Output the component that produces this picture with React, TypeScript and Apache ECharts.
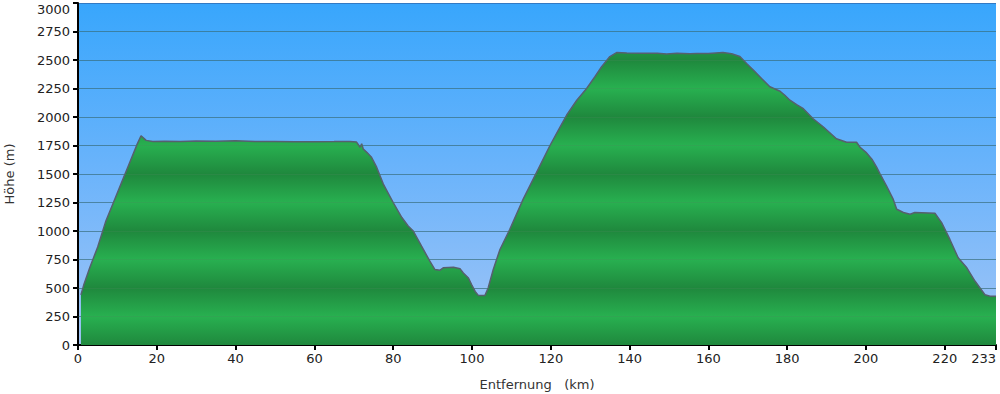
import React, { useEffect, useRef } from "react";
import * as echarts from "echarts";

const distanceKm = [
  0.75, 1.5, 3, 5, 7, 9, 11, 13, 15, 16.0, 17.3, 19, 22, 26, 30, 35, 40, 45, 50, 55, 60, 65, 69,
  70.7, 71.6, 72, 72.4, 73.3, 74.5, 75.8, 77.5, 80, 82.2, 83.8, 85.1, 87.2, 89.3, 90.6, 91.9,
  92.7, 95.3, 97, 97.8, 99.1, 99.9, 100.8, 101.6, 103.3, 104.1, 105.4, 107.1, 109.6, 113, 116.4,
  119.8, 122, 124, 126.6, 129.1, 131.2, 132.9, 135, 136.7, 139.3, 143, 147, 149.4, 152, 155.3,
  157, 160, 163.7, 165.9, 168, 169.7, 171.4, 173.5, 175.6, 178.2, 179.4, 180.7, 182.4, 184.1,
  186.6, 189.2, 192.5, 195.1, 197.6, 198.5, 200, 201.5, 202.7, 203.6, 205.2, 206.9, 207.8,
  209.5, 211.2, 212.4, 217.5, 219.2, 221.3, 223.4, 225.6, 227.7, 230.2, 231.5, 233,
];

const elevationM = [
  440, 530, 680, 860, 1080, 1250, 1420, 1590, 1760, 1835, 1795, 1785, 1788, 1785, 1790, 1787,
  1792, 1786, 1785, 1783, 1783, 1784, 1786, 1780, 1735, 1765, 1720, 1690, 1647, 1560, 1412,
  1250, 1118, 1044, 1000, 867, 735, 662, 656, 677, 682, 668, 632, 588, 530, 470, 435, 435, 500,
  662, 838, 1015, 1280, 1515, 1750, 1890, 2015, 2147, 2250, 2353, 2441, 2530, 2565, 2562, 2560,
  2560, 2552, 2560, 2555, 2556, 2558, 2565, 2555, 2530, 2470, 2412, 2338, 2265, 2226, 2191,
  2147, 2109, 2073, 1985, 1912, 1809, 1779, 1779, 1735, 1690, 1630, 1560, 1500, 1397, 1279,
  1191, 1162, 1147, 1162, 1156, 1074, 926, 765, 677, 559, 441, 427, 427,
];

const xTickLabels = [0, 20, 40, 60, 80, 100, 120, 140, 160, 180, 200, 220, 233];
const yMax = 3000;
const yStep = 250;

const FONT = "DejaVu Sans, Verdana, sans-serif";

export default function App() {
  const ref = useRef<HTMLDivElement>(null);

  useEffect(() => {
    if (!ref.current) return;
    const chart = echarts.init(ref.current, null, { renderer: "svg" });

    const gridTop = 3;
    const gridBottomPx = 345;
    const stops: { offset: number; color: string }[] = [];
    const n = yMax / yStep;
    for (let k = 0; k <= n; k++) {
      const v = yMax - k * yStep;
      stops.push({ offset: k / n, color: v % 500 === 0 ? "#1f883d" : "#28b050" });
    }

    const data = distanceKm.map((d, i) => [d, elevationM[i]]);
    const gridVals: number[] = [];
    for (let v = yStep; v < yMax; v += yStep) gridVals.push(v);

    chart.setOption({
      animation: false,
      textStyle: { fontFamily: FONT },
      grid: {
        left: 78,
        right: 4,
        top: gridTop,
        bottom: 394 - gridBottomPx,
        containLabel: false,
        outerBoundsMode: "none",
        show: true,
        borderWidth: 0,
        backgroundColor: new echarts.graphic.LinearGradient(0, 0, 0, 1, [
          { offset: 0, color: "#38a6fc" },
          { offset: 0.5, color: "#6cb4fb" },
          { offset: 1, color: "#a2c5f6" },
        ]),
      },
      xAxis: {
        type: "value",
        min: 0,
        max: 233,
        interval: 20,
        name: "Entfernung   (km)",
        nameLocation: "middle",
        nameGap: 33,
        nameTextStyle: { fontSize: 13, color: "#333", fontFamily: FONT },
        axisLine: { show: true, onZero: false, lineStyle: { color: "#000", width: 2 } },
        axisTick: {
          show: true,
          length: 5,
          lineStyle: { color: "#000", width: 2 },
          customValues: xTickLabels,
        },
        axisLabel: {
          fontSize: 13,
          color: "#222",
          margin: 7,
          fontFamily: FONT,
          customValues: xTickLabels,
          alignMaxLabel: "right",
          formatter: (v: number) => String(v),
        },
        splitLine: { show: false },
      },
      yAxis: {
        type: "value",
        min: 0,
        max: yMax,
        interval: yStep,
        name: "Höhe (m)",
        nameLocation: "middle",
        nameRotate: 90,
        nameGap: 62,
        nameTextStyle: { fontSize: 13, color: "#333", fontFamily: FONT },
        axisLine: { show: true, lineStyle: { color: "#000", width: 2 } },
        axisTick: { show: true, length: 5, lineStyle: { color: "#000", width: 2 } },
        axisLabel: {
          fontSize: 13,
          color: "#222",
          margin: 8,
          fontFamily: FONT,
          verticalAlignMaxLabel: "top",
          formatter: (v: number) => String(v),
        },
        splitLine: { show: true, lineStyle: { color: "rgba(45,85,150,0.55)", width: 1 } },
      },
      series: [
        {
          type: "line",
          data,
          showSymbol: false,
          symbol: "none",
          lineStyle: { color: "#56606e", width: 1.5 },
          areaStyle: {
            opacity: 1,
            origin: "start",
            color: new echarts.graphic.LinearGradient(0, gridTop, 0, gridBottomPx, stops, true),
          },
          markLine: {
            silent: true,
            symbol: "none",
            label: { show: false },
            lineStyle: { color: "rgba(70,140,90,0.3)", width: 1, type: "solid" },
            data: gridVals.map((v) => ({ yAxis: v })),
          },
          z: 2,
        },
      ],
    });

    return () => chart.dispose();
  }, []);

  return (
    <div
      ref={ref}
      style={{ position: "fixed", left: 0, top: 0, width: 1000, height: 394, background: "#fff" }}
    />
  );
}
